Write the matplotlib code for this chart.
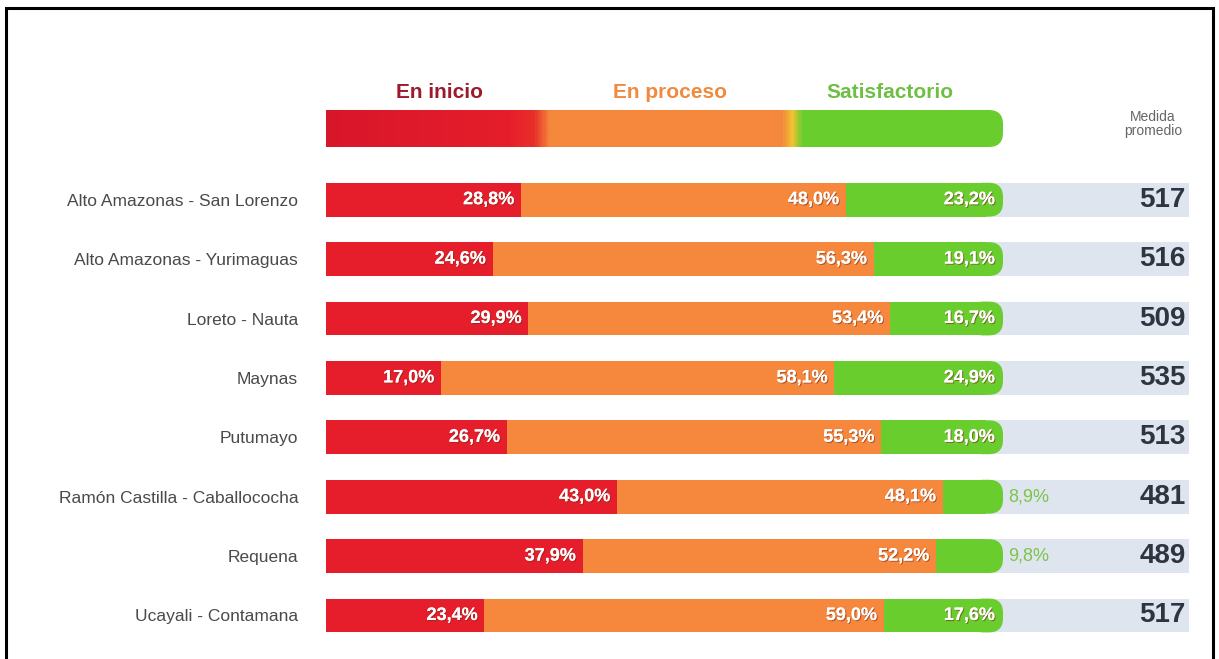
import numpy as np
import matplotlib
matplotlib.use("Agg")
import matplotlib.pyplot as plt
from matplotlib.patches import FancyBboxPatch, Rectangle
from matplotlib.colors import LinearSegmentedColormap
import matplotlib.patheffects as pe

# datos
provincias = ["Alto Amazonas - San Lorenzo", "Alto Amazonas - Yurimaguas", "Loreto - Nauta",
              "Maynas", "Putumayo", "Ramón Castilla - Caballococha", "Requena", "Ucayali - Contamana"]
en_inicio = [28.8, 24.6, 29.9, 17.0, 26.7, 43.0, 37.9, 23.4]
en_proceso = [48.0, 56.3, 53.4, 58.1, 55.3, 48.1, 52.2, 59.0]
satisfactorio = [23.2, 19.1, 16.7, 24.9, 18.0, 8.9, 9.8, 17.6]
medida = [517, 516, 509, 535, 513, 481, 489, 517]

rojo = "#e61e2b"
naranja = "#f5883c"
verde = "#6acd2e"
banda = "#dfe5ee"

plt.rcParams['font.family'] = ['Liberation Sans', 'DejaVu Sans']

W, H = 1219, 659
fig = plt.figure(figsize=(W / 100, H / 100), dpi=100)

# ejes principales, en pixeles: barras de x=326 a 1003 (100%)
x0, x100 = 326, 1003
pxu = (x100 - x0) / 100.0
row = 59.4
ytop = 170
n = len(provincias)
ax = fig.add_axes([x0 / W, 1 - (ytop + n * row) / H, (W - x0) / W, n * row / H])
ax.set_xlim(0, (W - x0) / pxu)
ax.set_ylim(n - 0.5, -0.5)
for s in ax.spines.values():
    s.set_visible(False)
ax.set_xticks([])
y = np.arange(n)
ax.set_yticks(y)
ax.set_yticklabels(provincias, fontsize=12.5, color="#4a4a4a")
ax.tick_params(axis="y", length=0, pad=20)

h = 0.57
asp = (1 / row) / (1 / pxu)
sombra = [pe.withSimplePatchShadow(offset=(0.8, -0.8), shadow_rgbFace="#7a2a1a", alpha=0.55), pe.Normal()]

ax.barh(y, 127.5, height=h, color=banda, zorder=0)
ini = np.array(en_inicio)
pro = np.array(en_proceso)
sat = np.array(satisfactorio)
# verde: tramo recto + extremo redondeado
ax.barh(y, sat - 2.5, left=ini + pro, height=h, color=verde, zorder=1)
for i in range(n):
    ax.add_patch(FancyBboxPatch((100 - 5, i - h / 2), 5, h,
                                boxstyle="round,pad=0,rounding_size=2.1",
                                mutation_aspect=asp, fc=verde, ec="none", zorder=1))
ax.barh(y, ini, height=h, color=rojo, zorder=2)
ax.barh(y, pro, left=ini, height=h, color=naranja, zorder=2)

def fmt(v):
    return f"{v:.1f}%".replace(".", ",")

for i in range(n):
    ax.text(ini[i] - 1.0, i, fmt(ini[i]), ha="right", va="center", color="white",
            fontsize=13, fontweight="bold", zorder=3, path_effects=sombra)
    ax.text(ini[i] + pro[i] - 1.0, i, fmt(pro[i]), ha="right", va="center", color="white",
            fontsize=13, fontweight="bold", zorder=3, path_effects=sombra)
    if sat[i] >= 12:
        ax.text(98.8, i, fmt(sat[i]), ha="right", va="center", color="white",
                fontsize=13, fontweight="bold", zorder=3, path_effects=sombra)
    else:
        ax.text(100.8, i, fmt(sat[i]), ha="left", va="center", color="#7cc44a",
                fontsize=13, zorder=3)
    ax.text(127.0, i, str(medida[i]), ha="right", va="center", color="#2e3440",
            fontsize=20, fontweight="bold", zorder=3)

# leyenda con degradado
lg = fig.add_axes([x0 / W, 1 - 147 / H, (W - x0) / W, 37 / H])
lg.set_xlim(0, (W - x0) / pxu)
lg.set_ylim(0, 1)
lg.axis("off")
cm = LinearSegmentedColormap.from_list("niveles", [
    (0.0, "#d8162a"), (0.27, "#e61e2b"), (0.307, "#e8302a"), (0.33, naranja),
    (0.675, naranja), (0.69, "#f0c232"), (0.705, verde), (1.0, verde)])
grad = np.linspace(0, 1, 600).reshape(1, -1)
im = lg.imshow(grad, cmap=cm, aspect="auto", extent=(0, 100, 0, 1))
clip = FancyBboxPatch((-3, 0), 103, 1, boxstyle="round,pad=0,rounding_size=2.1",
                      mutation_aspect=(1 / 37) / (1 / pxu), fc="none", ec="none",
                      transform=lg.transData)
lg.add_patch(clip)
im.set_clip_path(clip)

narrow = ['Liberation Sans Narrow', 'Liberation Sans', 'DejaVu Sans']
fig.text(440 / W, 1 - 92 / H, "En inicio", ha="center", va="center", color="#9b1a2e",
         fontsize=15, fontweight="bold", family=narrow)
fig.text(670 / W, 1 - 92 / H, "En proceso", ha="center", va="center", color="#ef8a3e",
         fontsize=15, fontweight="bold", family=narrow)
fig.text(890 / W, 1 - 92 / H, "Satisfactorio", ha="center", va="center", color="#6fbf45",
         fontsize=15, fontweight="bold", family=narrow)
fig.text(1153 / W, 1 - 124 / H, "Medida\npromedio", ha="center", va="center", color="#666666",
         fontsize=10, linespacing=0.95)

# marco
fig.add_artist(Rectangle((6 / W, -0.02), 1207 / W, 1 - 8 / H + 0.02, transform=fig.transFigure,
                         fill=False, ec="black", lw=2.2))

fig.savefig("out.png", dpi=100)
